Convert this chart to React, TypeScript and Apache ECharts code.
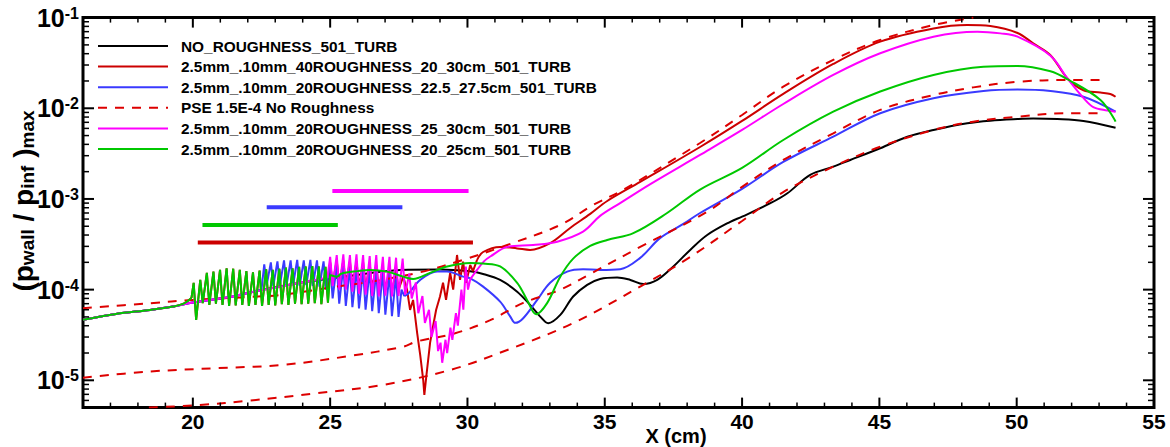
import React, { useEffect, useRef } from 'react';
import * as echarts from 'echarts';

// ---------- names ----------
const seriesNames = [
  'NO_ROUGHNESS_501_TURB',
  '2.5mm_.10mm_40ROUGHNESS_20_30cm_501_TURB',
  '2.5mm_.10mm_20ROUGHNESS_22.5_27.5cm_501_TURB',
  'PSE 1.5E-4 No Roughness',
  '2.5mm_.10mm_20ROUGHNESS_25_30cm_501_TURB',
  '2.5mm_.10mm_20ROUGHNESS_20_25cm_501_TURB',
];

// ---------- axis ticks ----------
const xMajorTicks = [20, 25, 30, 35, 40, 45, 50];
const xMinorTicks = [17, 18, 19, 21, 22, 23, 24, 26, 27, 28, 29, 31, 32, 33, 34, 36, 37, 38, 39, 41, 42, 43, 44, 46, 47, 48, 49, 51, 52, 53, 54];
const yMajorTicks = [1e-5, 1e-4, 1e-3, 1e-2];
const yMinorTicks = [
  6e-6, 7e-6, 8e-6, 9e-6,
  2e-5, 3e-5, 4e-5, 5e-5, 6e-5, 7e-5, 8e-5, 9e-5,
  2e-4, 3e-4, 4e-4, 5e-4, 6e-4, 7e-4, 8e-4, 9e-4,
  2e-3, 3e-3, 4e-3, 5e-3, 6e-3, 7e-3, 8e-3, 9e-3,
  2e-2, 3e-2, 4e-2, 5e-2, 6e-2, 7e-2, 8e-2, 9e-2,
];

// ---------- NO_ROUGHNESS ----------
const blackPts = [
  [16.0, 4.65e-5], [17.2, 5.4e-5], [18.44, 5.97e-5], [19.28, 6.5e-5], [20.0, 7.2e-5], [21.46, 8.4e-5],
  [22.08, 9.3e-5], [23.9, 1.19e-4], [25.73, 1.42e-4], [27.55, 1.65e-4], [29.0, 1.67e-4], [30.1, 1.59e-4],
  [30.57, 1.49e-4], [31.19, 1.28e-4], [31.81, 9.5e-5], [32.28, 6.8e-5], [32.65, 5.04e-5], [32.94, 4.26e-5],
  [33.38, 5.26e-5], [33.85, 8.4e-5], [34.36, 1.13e-4], [34.83, 1.31e-4], [35.45, 1.36e-4], [35.93, 1.28e-4],
  [36.4, 1.155e-4], [36.91, 1.28e-4], [37.49, 1.79e-4], [38.11, 2.74e-4], [38.73, 4.0e-4], [39.57, 5.6e-4],
  [40.0, 6.38e-4], [41.03, 8.97e-4], [41.65, 1.155e-3], [42.48, 1.84e-3], [43.32, 2.27e-3], [43.94, 2.69e-3],
  [45.03, 3.62e-3], [46.02, 4.86e-3], [46.97, 5.77e-3], [48.2, 6.84e-3], [49.04, 7.3e-3], [50.03, 7.6e-3],
  [50.6, 7.7e-3], [51.48, 7.6e-3], [52.43, 7.24e-3], [53.6, 6.1e-3],
];

// ---------- 20-25 cm roughness (green) ----------
const greenPre = [
  [16.0, 4.65e-5], [17.2, 5.4e-5], [18.44, 5.97e-5], [19.28, 6.5e-5], [19.64, 6.95e-5], [19.95, 8.1e-5],
];
const greenRough = [
  [20.03, 1.19e-4], [20.12, 4.63e-5], [20.27, 1.28e-4], [20.36, 7.1e-5], [20.51, 1.53e-4], [20.6, 6.8e-5],
  [20.75, 1.58e-4], [20.84, 7.0e-5], [20.99, 1.65e-4], [21.08, 6.8e-5], [21.23, 1.72e-4], [21.32, 6.6e-5],
  [21.47, 1.7e-4], [21.56, 6.7e-5], [21.71, 1.65e-4], [21.8, 6.8e-5], [21.95, 1.6e-4], [22.04, 6.6e-5],
  [22.19, 1.55e-4], [22.28, 6.8e-5], [22.43, 1.62e-4], [22.52, 6.6e-5], [22.67, 1.68e-4], [22.76, 6.8e-5],
  [22.91, 1.65e-4], [23.0, 6.7e-5], [23.15, 1.7e-4], [23.24, 6.9e-5], [23.39, 1.75e-4], [23.48, 6.8e-5],
  [23.63, 1.72e-4], [23.72, 7.0e-5], [23.87, 1.78e-4], [23.96, 6.9e-5], [24.11, 1.8e-4], [24.2, 7.0e-5],
  [24.35, 1.82e-4], [24.44, 7.1e-5], [24.59, 1.8e-4], [24.68, 6.9e-5], [24.83, 1.78e-4], [24.92, 7.2e-5],
];
const greenPost = [
  [25.0, 1.45e-4], [25.25, 1.39e-4], [25.4, 1.5e-4], [26.0, 1.6e-4], [26.46, 1.65e-4], [27.07, 1.58e-4],
  [27.66, 1.39e-4], [28.02, 1.31e-4], [28.64, 1.53e-4], [29.26, 1.8e-4], [30.1, 1.97e-4], [30.57, 1.94e-4],
  [31.19, 1.8e-4], [31.81, 1.19e-4], [32.17, 7.7e-5], [32.5, 5.35e-5], [32.9, 7.1e-5], [33.38, 1.39e-4],
  [33.85, 2.2e-4], [34.47, 3.03e-4], [35.09, 3.53e-4], [36.04, 4.2e-4], [37.27, 7.0e-4], [38.47, 1.27e-3],
  [40.0, 2.2e-3], [41.5, 4.47e-3], [43.32, 9.17e-3], [45.03, 1.53e-2], [46.97, 2.33e-2], [48.79, 2.87e-2],
  [50.03, 2.92e-2], [51.23, 2.56e-2], [51.85, 2.09e-2], [53.05, 1.235e-2], [53.6, 7.12e-3],
];

// ---------- 22.5-27.5 cm roughness (blue) ----------
const bluePre = [
  [16.0, 4.65e-5], [17.2, 5.4e-5], [18.44, 5.97e-5], [19.28, 6.5e-5], [20.0, 7.2e-5], [21.46, 8.4e-5],
  [22.08, 9.3e-5], [22.5, 1.0e-4],
];
const blueRough = [
  [22.6, 1.9e-4], [22.69, 1.12e-4], [22.84, 2.0e-4], [22.93, 1.1e-4], [23.08, 2.05e-4], [23.17, 1.12e-4],
  [23.32, 2.1e-4], [23.41, 1.1e-4], [23.56, 2.1e-4], [23.65, 1.12e-4], [23.8, 2.13e-4], [23.89, 1.1e-4],
  [24.04, 2.1e-4], [24.13, 1.12e-4], [24.28, 2.13e-4], [24.37, 1.1e-4], [24.52, 2.1e-4], [24.61, 1.08e-4],
  [24.76, 2.05e-4], [24.85, 1.0e-4], [25.0, 1.95e-4], [25.09, 8.0e-5], [25.24, 1.85e-4], [25.33, 7.0e-5],
  [25.48, 1.8e-4], [25.57, 6.6e-5], [25.72, 1.75e-4], [25.81, 6.4e-5], [25.96, 1.7e-4], [26.05, 6.2e-5],
  [26.2, 1.68e-4], [26.29, 6.0e-5], [26.44, 1.65e-4], [26.53, 5.8e-5], [26.68, 1.6e-4], [26.77, 5.5e-5],
  [26.92, 1.55e-4], [27.01, 5.3e-5], [27.16, 1.5e-4], [27.25, 5.1e-5], [27.4, 1.45e-4], [27.49, 5.0e-5],
  [27.6, 1.0e-4],
];
const bluePost = [
  [27.7, 8.5e-5], [27.84, 9.0e-5], [28.28, 1.28e-4], [28.9, 1.58e-4], [29.26, 1.58e-4], [29.84, 1.39e-4],
  [30.1, 1.33e-4], [30.57, 1.08e-4], [31.19, 7.37e-5], [31.56, 5.04e-5], [31.74, 4.3e-5], [32.03, 4.84e-5],
  [32.54, 7.7e-5], [33.01, 1.19e-4], [33.63, 1.58e-4], [34.21, 1.68e-4], [34.83, 1.65e-4], [35.56, 1.68e-4],
  [36.29, 2.24e-4], [37.02, 3.72e-4], [37.86, 5.3e-4], [38.47, 7.0e-4], [40.0, 1.29e-3], [41.5, 2.56e-3],
  [43.32, 4.86e-3], [45.03, 8.81e-3], [46.97, 1.29e-2], [48.79, 1.55e-2], [50.03, 1.61e-2], [51.23, 1.55e-2],
  [52.43, 1.34e-2], [53.6, 9.17e-3],
];

// ---------- 25-30 cm roughness (magenta) ----------
const magentaPre = [
  [16.0, 4.65e-5], [17.2, 5.4e-5], [18.44, 5.97e-5], [19.28, 6.5e-5], [20.0, 7.2e-5], [21.46, 8.4e-5],
  [22.08, 9.3e-5], [23.9, 1.19e-4], [24.9, 1.35e-4],
];
const magentaRough = [
  [25.0, 2.3e-4], [25.09, 1.1e-4], [25.24, 2.4e-4], [25.33, 1.0e-4], [25.48, 2.45e-4], [25.57, 1.0e-4],
  [25.72, 2.4e-4], [25.81, 9.5e-5], [25.96, 2.45e-4], [26.05, 9.0e-5], [26.2, 2.4e-4], [26.29, 8.8e-5],
  [26.44, 2.35e-4], [26.53, 8.5e-5], [26.68, 2.4e-4], [26.77, 8.4e-5], [26.92, 2.3e-4], [27.01, 8.6e-5],
  [27.16, 2.3e-4], [27.25, 8.4e-5], [27.4, 2.25e-4], [27.49, 8.5e-5], [27.64, 2.2e-4], [27.73, 8.8e-5],
  [27.88, 1.5e-4], [27.97, 8.0e-5], [28.12, 1.2e-4], [28.21, 5.5e-5], [28.36, 8.5e-5], [28.45, 4.3e-5],
  [28.6, 6.0e-5], [28.69, 3.0e-5], [28.84, 4.5e-5], [28.93, 2.1e-5], [29.02, 2.6e-5], [29.08, 1.56e-5],
  [29.2, 2.8e-5], [29.26, 2.0e-5], [29.38, 3.8e-5], [29.45, 2.8e-5], [29.58, 5.5e-5], [29.65, 4.0e-5],
  [29.78, 1.0e-4], [29.85, 6.0e-5], [29.94, 1.8e-4], [30.02, 1.0e-4],
];
const magentaPost = [
  [30.1, 1.3e-4], [30.35, 1.65e-4], [30.6, 2.05e-4], [30.83, 2.32e-4], [31.45, 2.96e-4], [32.39, 3.11e-4],
  [33.27, 3.38e-4], [34.21, 4.36e-4], [34.83, 6.5e-4], [35.56, 9.0e-4], [36.66, 1.46e-3], [38.47, 3.06e-3],
  [40.0, 5.77e-3], [41.5, 1.115e-2], [43.32, 2.33e-2], [45.03, 4.04e-2], [46.97, 6.16e-2], [48.57, 6.99e-2],
  [49.41, 6.7e-2], [50.03, 6.16e-2], [51.23, 3.8e-2], [51.85, 2.13e-2], [52.43, 1.3e-2], [52.79, 1.03e-2],
  [53.3, 9.46e-3], [53.6, 9.17e-3],
];

// ---------- 20-30 cm roughness, 40 elements (red) ----------
// over 20-25 cm it coincides with the 20-25 cm case (same elements), read as greenRough
const redRough = [
  [25.0, 2.0e-4], [25.09, 1.15e-4], [25.24, 2.1e-4], [25.33, 1.1e-4], [25.48, 2.1e-4], [25.57, 1.1e-4],
  [25.72, 2.05e-4], [25.81, 1.05e-4], [25.96, 2.05e-4], [26.05, 1.05e-4], [26.2, 2.0e-4], [26.29, 1.0e-4],
  [26.44, 1.95e-4], [26.53, 1.0e-4], [26.68, 1.85e-4], [26.77, 1.0e-4], [26.92, 1.65e-4], [27.01, 1.0e-4],
  [27.16, 1.65e-4], [27.25, 9.5e-5], [27.4, 1.6e-4], [27.49, 1.0e-4], [27.66, 1.39e-4], [27.8, 1.0e-4],
  [27.91, 5.97e-5], [28.02, 7.7e-5], [28.17, 3.3e-5], [28.28, 1.9e-5], [28.39, 1.0e-5], [28.43, 6.9e-6],
  [28.5, 1.1e-5], [28.64, 2.6e-5], [28.75, 4.0e-5], [28.86, 6.0e-5], [29.0, 8.4e-5], [29.11, 1.19e-4],
  [29.22, 7.7e-5], [29.37, 1.53e-4], [29.48, 1.0e-4], [29.62, 2.41e-4], [29.73, 1.28e-4], [29.84, 2.03e-4],
  [29.95, 1.19e-4], [30.1, 1.87e-4], [30.2, 1.6e-4],
];
const redPost = [
  [30.35, 2.13e-4], [30.57, 2.6e-4], [31.19, 2.96e-4], [31.81, 2.85e-4], [32.28, 2.74e-4], [33.01, 3.25e-4],
  [33.74, 4.79e-4], [34.47, 6.84e-4], [35.09, 9.5e-4], [36.29, 1.54e-3], [38.47, 3.74e-3], [40.0, 7.25e-3],
  [41.5, 1.44e-2], [43.32, 3.08e-2], [45.03, 5.43e-2], [46.97, 7.6e-2], [48.2, 8.29e-2], [49.04, 8.07e-2],
  [50.03, 6.77e-2], [50.6, 5.2e-2], [51.23, 3.85e-2], [51.85, 2.13e-2], [52.43, 1.58e-2], [53.05, 1.49e-2],
  [53.41, 1.44e-2], [53.6, 1.34e-2],
];

// ---------- PSE (three modes, dashed) ----------
const pseUpper = [
  [16.0, 6.24e-5], [18.44, 7.08e-5], [20.0, 7.7e-5], [22.0, 8.3e-5], [23.2, 8.75e-5], [25.25, 1.08e-4],
  [26.46, 1.22e-4], [28.3, 1.56e-4], [29.84, 2.13e-4], [31.45, 3.11e-4], [33.38, 5.17e-4], [34.58, 8.59e-4],
  [35.67, 1.26e-3], [38.47, 4.14e-3], [40.0, 8.44e-3], [41.5, 1.73e-2], [43.32, 3.41e-2], [45.03, 5.66e-2],
  [46.97, 8.29e-2], [48.42, 0.1],
];
const pseMiddle = [
  [16.0, 1.07e-5], [18.44, 1.25e-5], [20.85, 1.36e-5], [23.29, 1.48e-5], [25.73, 1.86e-5], [27.66, 2.35e-5],
  [28.13, 2.67e-5], [29.55, 3.3e-5], [30.83, 4.6e-5], [32.03, 7.13e-5], [33.38, 1.0e-4], [34.47, 1.49e-4],
  [36.29, 2.96e-4], [38.73, 7.24e-4], [40.0, 1.36e-3], [41.5, 2.69e-3], [43.32, 5.3e-3], [45.03, 9.6e-3],
  [46.97, 1.4e-2], [48.42, 1.7e-2], [50.03, 1.96e-2], [51.85, 2.05e-2], [53.16, 2.05e-2],
];
const pseLower = [
  [18.4, 5.0e-6], [20.26, 5.35e-6], [22.08, 5.97e-6], [24.49, 7.2e-6], [26.93, 8.9e-6], [29.37, 1.3e-5],
  [31.45, 2.16e-5], [33.85, 4.28e-5], [36.29, 1.08e-4], [38.11, 2.29e-4], [40.0, 5.72e-4], [41.5, 1.19e-3],
  [43.32, 2.27e-3], [45.03, 3.77e-3], [46.97, 5.77e-3], [48.42, 7.12e-3], [50.03, 8.08e-3], [51.85, 8.81e-3],
  [53.16, 8.81e-3],
];

// ---------- roughness extent bars ----------
const barRed = [[20.18, 3.3e-4], [30.2, 3.3e-4]];
const barGreen = [[20.35, 5.16e-4], [25.28, 5.16e-4]];
const barBlue = [[22.69, 8.1e-4], [27.63, 8.1e-4]];
const barMagenta = [[25.08, 1.22e-3], [30.04, 1.22e-3]];

// ---------- styles ----------
const COL = {
  black: '#000000',
  red: '#cc0000',
  blue: '#3a3aff',
  pse: '#dd0000',
  magenta: '#ff00ff',
  green: '#00c800',
};
const FONT = "'Liberation Sans', Arial, Helvetica, sans-serif";

function line(name: string, data: number[][], color: string, smooth: number | boolean, dash?: number[]) {
  return {
    type: 'line',
    name,
    data,
    smooth,
    symbol: 'none',
    showSymbol: false,
    silent: true,
    clip: true,
    lineStyle: { color, width: 2, type: dash ? dash : 'solid', cap: 'butt' },
    itemStyle: { color },
    emphasis: { disabled: true },
  };
}

function join(a: number[][], b: number[][]) {
  return [a[a.length - 1], ...b];
}

function buildOption() {
  const S = 0.35;
  const tickData: number[][] = [];
  xMajorTicks.forEach((v) => tickData.push([v, 1e-3, 0, 1]));
  xMinorTicks.forEach((v) => tickData.push([v, 1e-3, 0, 0]));
  yMajorTicks.forEach((v) => tickData.push([30, v, 1, 1]));
  yMinorTicks.forEach((v) => tickData.push([30, v, 1, 0]));

  const series: any[] = [
    line(seriesNames[0], blackPts, COL.black, S),

    line(seriesNames[1], greenPre, COL.red, S),
    line(seriesNames[1], [...join(greenPre, greenRough), ...redRough, redPost[0]], COL.red, false),
    line(seriesNames[1], redPost, COL.red, S),

    line(seriesNames[2], bluePre, COL.blue, S),
    line(seriesNames[2], [...join(bluePre, blueRough), bluePost[0]], COL.blue, false),
    line(seriesNames[2], bluePost, COL.blue, S),

    line(seriesNames[3], pseUpper, COL.pse, S, [9, 8]),
    line(seriesNames[3], pseMiddle, COL.pse, S, [9, 8]),
    line(seriesNames[3], pseLower, COL.pse, S, [9, 8]),

    line(seriesNames[4], magentaPre, COL.magenta, S),
    line(seriesNames[4], [...join(magentaPre, magentaRough), magentaPost[0]], COL.magenta, false),
    line(seriesNames[4], magentaPost, COL.magenta, S),

    line(seriesNames[5], greenPre, COL.green, S),
    line(seriesNames[5], [...join(greenPre, greenRough), greenPost[0]], COL.green, false),
    line(seriesNames[5], greenPost, COL.green, S),
  ];

  const bars: [number[][], string][] = [
    [barRed, COL.red], [barGreen, COL.green], [barBlue, COL.blue], [barMagenta, COL.magenta],
  ];
  bars.forEach(([d, c], i) => {
    series.push({
      type: 'line', name: 'bar' + i, data: d, symbol: 'none', silent: true,
      lineStyle: { color: c, width: 4, cap: 'butt' }, itemStyle: { color: c },
      emphasis: { disabled: true },
    });
  });

  series.push({
    type: 'custom',
    name: 'ticks',
    silent: true,
    dimensions: ['x', 'y', 'kind', 'major'],
    encode: { x: 0, y: 1 },
    data: tickData,
    z: 10,
    renderItem: (params: any, api: any) => {
      const cs = params.coordSys;
      const top = cs.y, bottom = cs.y + cs.height, left = cs.x, right = cs.x + cs.width;
      const kind = api.value(2);
      const major = api.value(3) === 1;
      const w = major ? 2 : 1.5;
      const st = { stroke: '#000', lineWidth: w };
      if (kind === 0) {
        const px = api.coord([api.value(0), 1e-3])[0];
        const len = major ? 10 : 5;
        return {
          type: 'group',
          children: [
            { type: 'line', shape: { x1: px, y1: bottom, x2: px, y2: bottom - len }, style: st },
            { type: 'line', shape: { x1: px, y1: top, x2: px, y2: top + len }, style: st },
          ],
        };
      }
      const py = api.coord([30, api.value(1)])[1];
      const len = major ? 11 : 6;
      return {
        type: 'group',
        children: [
          { type: 'line', shape: { x1: left, y1: py, x2: left + len, y2: py }, style: st },
          { type: 'line', shape: { x1: right, y1: py, x2: right - len, y2: py }, style: st },
        ],
      };
    },
  });

  return {
    animation: false,
    backgroundColor: '#ffffff',
    grid: {
      left: 83, top: 17.6, width: 1071, height: 390,
      show: true, borderColor: '#000', borderWidth: 3, backgroundColor: 'transparent',
    },
    xAxis: {
      type: 'value', min: 16, max: 55, splitNumber: 8,
      axisLine: { show: false }, axisTick: { show: false }, splitLine: { show: false },
      axisLabel: {
        margin: 3,
        color: '#000',
        fontSize: 21,
        fontWeight: 'bold',
        fontFamily: FONT,
        formatter: (v: number) => (Math.abs(v % 5) < 1e-9 ? String(v) : ''),
      },
    },
    yAxis: {
      type: 'log', logBase: 10, min: 5e-6, max: 0.1,
      axisLine: { show: false }, axisTick: { show: false }, splitLine: { show: false },
      axisLabel: {
        margin: 4,
        formatter: (v: number) => {
          const e = Math.log10(v);
          const r = Math.round(e);
          if (Math.abs(e - r) > 1e-6) return '';
          return '{b|10}{s|' + r + '}';
        },
        rich: {
          b: { fontSize: 25, fontWeight: 'bold', fontFamily: FONT, color: '#000' },
          s: { fontSize: 16, fontWeight: 'bold', fontFamily: FONT, color: '#000', verticalAlign: 'top' },
        },
      },
    },
    legend: {
      data: seriesNames,
      orient: 'vertical',
      left: 97,
      top: 38,
      padding: 0,
      itemWidth: 70,
      itemHeight: 16,
      itemGap: 4.6,
      selectedMode: false,
      itemStyle: { opacity: 0, borderWidth: 0 },
      textStyle: {
        fontSize: 15.4, fontWeight: 'bold', fontFamily: FONT, color: '#000',
        lineHeight: 16, padding: [0, 0, 0, 8],
      },
    },
    graphic: [
      {
        type: 'text', x: 23, y: 201, rotation: Math.PI / 2, silent: true,
        style: {
          text: '{a|(p}{b|wall}{a| / p}{b|inf}{a| )}{b|max}',
          align: 'center', verticalAlign: 'middle',
          rich: {
            a: { fontSize: 28, fontWeight: 'bold', fontFamily: FONT, fill: '#000', color: '#000' },
            b: { fontSize: 19, fontWeight: 'bold', fontFamily: FONT, fill: '#000', color: '#000', verticalAlign: 'bottom' },
          },
        },
      },
      {
        type: 'text', x: 676, y: 436, silent: true,
        style: {
          text: 'X (cm)', align: 'center', verticalAlign: 'middle',
          font: 'bold 20px ' + FONT, fill: '#000',
        },
      },
    ],
    series,
  };
}

export default function App() {
  const ref = useRef<HTMLDivElement>(null);
  useEffect(() => {
    if (!ref.current) return;
    const chart = echarts.init(ref.current, null, { renderer: 'svg' });
    chart.setOption(buildOption() as any);
    return () => chart.dispose();
  }, []);
  return (
    <div
      ref={ref}
      style={{ position: 'absolute', left: 0, top: 0, width: 1170, height: 447, background: '#fff' }}
    />
  );
}
